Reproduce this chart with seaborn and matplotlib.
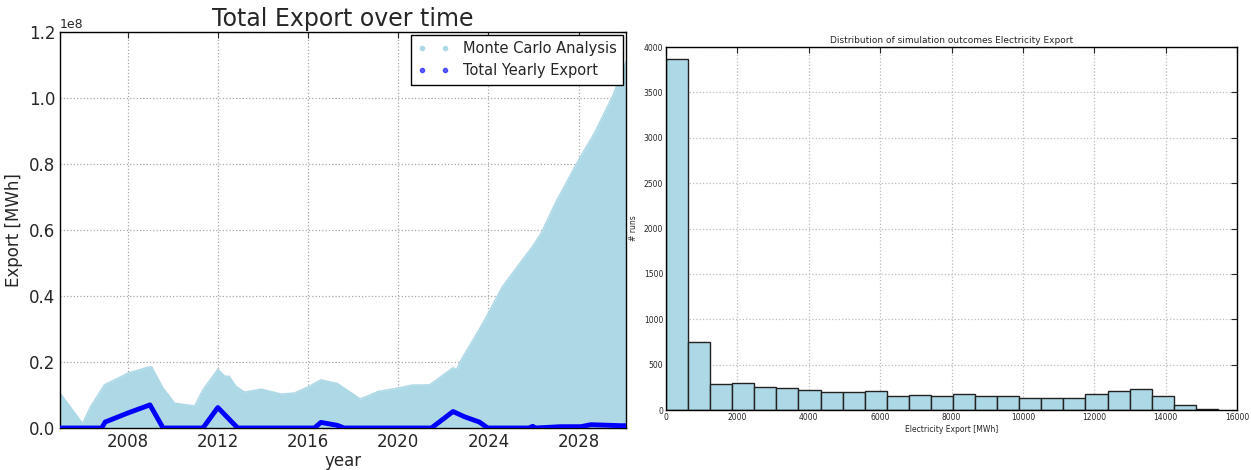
import numpy as np
import pandas as pd
import matplotlib
matplotlib.use("Agg")
import matplotlib.pyplot as plt
from matplotlib.lines import Line2D
import seaborn as sns

# ---------------- data ----------------
# Upper envelope of Monte Carlo runs (MWh)
mc_years = [2005.0, 2006.0, 2006.34, 2006.97, 2007.3, 2008.03, 2008.84, 2009.06, 2009.57,
            2010.09, 2010.97, 2011.34, 2012.0, 2012.3, 2012.5, 2012.81, 2013.18, 2013.92,
            2014.8, 2015.39, 2015.98, 2016.57, 2017.3, 2018.31, 2019.12, 2020.0, 2020.6,
            2021.4, 2022.43, 2022.58, 2022.8, 2023.6, 2024.0, 2024.63, 2025.96, 2026.33,
            2026.99, 2028.0, 2028.7, 2029.5, 2030.1]
mc_upper = [1.06e7, 0.14e7, 0.63e7, 1.31e7, 1.42e7, 1.67e7, 1.83e7, 1.86e7, 1.21e7,
            0.75e7, 0.67e7, 1.16e7, 1.78e7, 1.57e7, 1.57e7, 1.26e7, 1.09e7, 1.18e7,
            1.03e7, 1.06e7, 1.24e7, 1.46e7, 1.35e7, 0.88e7, 1.11e7, 1.21e7, 1.30e7,
            1.31e7, 1.83e7, 1.77e7, 2.08e7, 3.00e7, 3.49e7, 4.30e7, 5.51e7, 5.90e7,
            6.85e7, 8.13e7, 8.94e7, 10.05e7, 11.1e7]

# Total yearly export (MWh)
ty_years = [2005.0, 2006.85, 2007.0, 2008.03, 2008.99, 2009.57, 2011.34, 2012.0,
            2012.88, 2016.28, 2016.57, 2017.3, 2017.6, 2021.47, 2022.43, 2022.94,
            2023.6, 2023.97, 2025.8, 2025.96, 2026.1, 2027.2, 2028.1, 2028.54, 2029.87,
            2030.1]
ty_values = [0.0, 0.0, 0.18e7, 0.46e7, 0.70e7, 0.0, 0.0, 0.62e7,
             0.0, 0.0, 0.17e7, 0.08e7, 0.0, 0.0, 0.50e7, 0.34e7,
             0.18e7, 0.0, 0.0, 0.05e7, 0.0, 0.04e7, 0.04e7, 0.10e7, 0.07e7,
             0.07e7]

# Histogram of simulation outcomes
hist_counts = [3868, 752, 290, 301, 257, 242, 224, 198, 202, 213, 158, 169, 150,
               176, 150, 150, 132, 132, 132, 176, 209, 235, 158, 59, 15]
hist_max = 15465.0

# ---------------- style ----------------
sns.set_style("white")
plt.rcParams["font.family"] = ["DejaVu Sans"]
plt.rcParams.update({
    "xtick.direction": "in", "ytick.direction": "in",
    "xtick.top": True, "ytick.right": True,
    "xtick.major.size": 4, "ytick.major.size": 4,
    "axes.edgecolor": "black", "axes.linewidth": 1.0,
    "grid.color": "#a8a8a8", "grid.linestyle": ":", "grid.linewidth": 0.9,
})

fig = plt.figure(figsize=(12.51, 4.70), dpi=100)
ax1 = fig.add_axes([60 / 1251, 42 / 470, 566 / 1251, 396 / 470])
ax2 = fig.add_axes([666 / 1251, 60 / 470, 571 / 1251, 363 / 470])

# ---------------- left chart ----------------
mc_df = pd.DataFrame({"year": mc_years, "export": mc_upper})
ty_df = pd.DataFrame({"year": ty_years, "export": ty_values})

sns.lineplot(data=mc_df, x="year", y="export", ax=ax1, color="lightblue", lw=1,
             zorder=2)
ax1.fill_between(mc_df["year"], 0, mc_df["export"], color="lightblue", lw=0, zorder=2)
sns.lineplot(data=ty_df, x="year", y="export", ax=ax1, color="blue", lw=3.5,
             zorder=3)

ax1.set_xlim(2005.0, 2030.1)
ax1.set_ylim(0, 1.2e8)
ax1.set_xticks([2008, 2012, 2016, 2020, 2024, 2028])
ax1.set_yticks(np.arange(0, 1.21e8, 0.2e8))
ax1.grid(True)
ax1.set_axisbelow(True)
ax1.tick_params(labelsize=12)
ax1.yaxis.get_offset_text().set_fontsize(9)
ax1.set_title("Total Export over time", fontsize=17, pad=4)
ax1.set_xlabel("year", fontsize=12, labelpad=1)
ax1.set_ylabel("Export [MWh]", fontsize=12, labelpad=4)

handles = [Line2D([], [], marker="o", ls="none", markersize=3, color="lightblue"),
           Line2D([], [], marker="o", ls="none", markersize=3, color="blue", alpha=0.6)]
leg = ax1.legend(handles, ["Monte Carlo Analysis", "Total Yearly Export"],
                 loc="upper right", fontsize=10.5, numpoints=2, fancybox=False,
                 framealpha=1, edgecolor="black", borderaxespad=0.2,
                 handlelength=2.2, handletextpad=0.9, borderpad=0.45,
                 labelspacing=0.45)
leg.get_frame().set_linewidth(1.0)

# ---------------- right chart ----------------
nbins = len(hist_counts)
bw = hist_max / nbins
centers = [bw * (i + 0.5) for i in range(nbins)]
h_df = pd.DataFrame({"export": centers, "count": hist_counts})
sns.histplot(data=h_df, x="export", weights="count", binwidth=bw,
             binrange=(0, hist_max), ax=ax2,
             color="lightblue", alpha=1.0, edgecolor="#222222", linewidth=1.0)

ax2.set_xlim(0, 16000)
ax2.set_ylim(0, 4000)
ax2.set_xticks(np.arange(0, 16001, 2000))
ax2.set_yticks(np.arange(0, 4001, 500))
ax2.grid(True, color="#bbbbbb")
ax2.set_axisbelow(True)
ax2.tick_params(labelsize=5.5, pad=2)
ax2.set_title("Distribution of simulation outcomes Electricity Export", fontsize=6.5, pad=3)
ax2.set_xlabel("Electricity Export [MWh]", fontsize=5.5, labelpad=2)
ax2.set_ylabel("# runs", fontsize=5.5, labelpad=4)

fig.savefig("out.png", dpi=100)
